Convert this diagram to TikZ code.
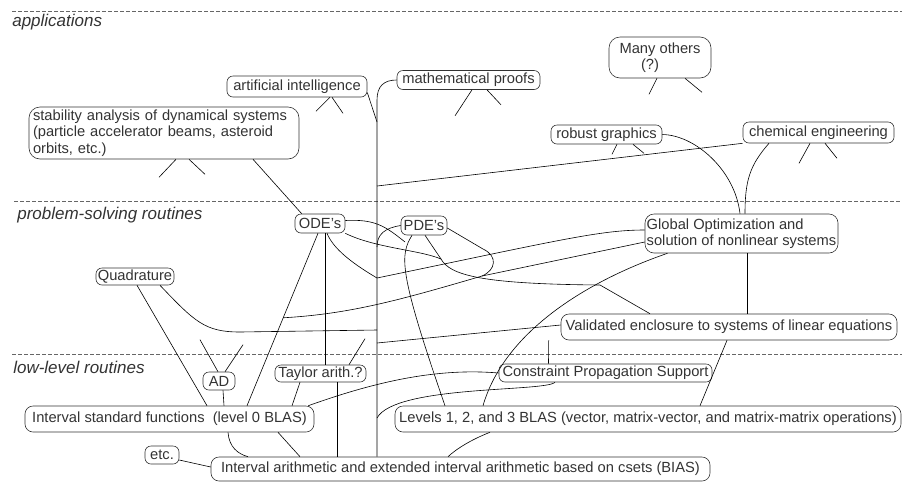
\documentclass[tikz,border=0pt]{standalone}
\usepackage{fontspec}
\setmainfont{Liberation Sans}
\usetikzlibrary{calc}

\begin{document}
\begin{tikzpicture}[
    x=1pt, y=-1pt,
    line width=0.6pt,
    box/.style = {draw=black!80, rounded corners=6pt, inner sep=1pt, text=black!80,
                  font=\fontsize{14.7}{16.5}\selectfont},
    bigbox/.style = {box, rounded corners=11pt, align=left, inner xsep=1.5pt},
    level/.style = {anchor=west, inner sep=0pt, text=black!80,
                    font=\fontsize{17}{19}\selectfont\itshape},
    sep/.style = {draw=black!60, dash pattern=on 4pt off 2pt}
  ]
  \useasboundingbox (0,0) rectangle (902,491);

  % layers
  \draw[sep] (12,11) -- (902,11);
  \draw[sep] (14,201) -- (902,201);
  \draw[sep] (12,354) -- (902,354);
  \node[level] (app) at (12,22) {applications};
  \node[level] (psr) at (17,215) {problem-solving routines};
  \node[level] (llr) at (13,367) {low-level routines};

  % applications
  \node[box, minimum width=140, minimum height=21] (ai) at (297,86.5) {artificial intelligence};
  \node[box, minimum width=143, minimum height=19] (proofs) at (468.5,80) {mathematical proofs};
  \node[bigbox, align=center, minimum width=102, minimum height=41] (many) at (660,57.5)
    {Many others\\\hspace*{-20pt}(?)};
  \node[bigbox, text width=262, inner xsep=4pt, minimum height=52] (stab) at (164,133)
    {stability analysis of dynamical systems\\(particle accelerator beams, asteroid\\orbits, etc.)};
  \node[box, minimum width=111, minimum height=19] (graphics) at (606.5,134.5) {robust graphics};
  \node[box, minimum width=151, minimum height=21] (chem) at (818.5,132.5) {chemical engineering};

  % problem-solving routines
  \node[box, minimum width=50, minimum height=19] (ode) at (320,223.5) {ODE's};
  \node[box, minimum width=46, minimum height=19] (pde) at (424,225.5) {PDE's};
  \node[bigbox, rounded corners=9pt, minimum width=193, minimum height=39] (glob) at (741.5,233.5)
    {Global Optimization and\\solution of nonlinear systems};
  \node[box, minimum width=78, minimum height=17] (quad) at (135,276.5) {Quadrature};
  \node[box, rounded corners=8pt, minimum width=336, minimum height=26] (valid) at (729,327)
    {Validated enclosure to systems of linear equations};

  % low-level routines
  \node[box, minimum width=32, minimum height=18] (ad) at (219,381) {AD};
  \node[box, minimum width=91, minimum height=17] (taylor) at (320.5,373.5) {Taylor arith.?};
  \node[box, minimum width=213, minimum height=18] (cps) at (605.5,373) {Constraint Propagation Support};
  \node[box, rounded corners=8pt, minimum width=289, minimum height=26] (istd) at (169.5,419)
    {Interval standard functions\ \ (level 0 BLAS)};
  \node[box, rounded corners=8pt, minimum width=506, minimum height=26] (blas) at (648,419)
    {Levels 1, 2, and 3 BLAS (vector, matrix-vector, and matrix-matrix operations)};
  \node[box, minimum width=34, minimum height=18] (etc) at (162,455) {etc.};
  \node[box, rounded corners=8pt, minimum width=499, minimum height=24] (bias) at (460.5,469)
    {Interval arithmetic and extended interval arithmetic based on csets (BIAS)};

  % unfinished links
  \draw ([xshift=33pt]ai.south) -- ++(-14,14);
  \draw ([xshift=35pt]ai.south) -- ++(11,16);
  \draw ([xshift=12pt]stab.south) -- ++(-17,18);
  \draw ([xshift=25pt]stab.south) -- ++(16,15);
  \draw ([xshift=3.5pt]proofs.south) -- ++(-17,26);
  \draw ([xshift=18.5pt]proofs.south) -- ++(14,15);
  \draw ([xshift=-3pt]many.south) -- ++(-8,16);
  \draw ([xshift=25pt]many.south) -- ++(17,14);
  \draw ([xshift=10.5pt]graphics.south) -- ++(-5,10);
  \draw ([xshift=26.5pt]graphics.south) -- ++(11,9);
  \draw ([xshift=-8.5pt]chem.south) -- ++(-11,20);
  \draw ([xshift=6.5pt]chem.south) -- ++(12,15);
  \draw ([xshift=-1pt]ad.north) -- ++(-18,-32);
  \draw ([xshift=6pt]ad.north) -- ++(18,-27);
  \draw ([xshift=28.5pt]taylor.north) -- ++(16,-26);

  % trunk
  \coordinate (trunktop) at (377,100);
  \coordinate (j-ai) at (377,122);
  \coordinate (j-chem) at (377,186);
  \coordinate (j-pde) at (377,247);
  \coordinate (j-glob) at (377,278);
  \coordinate (j-quad) at (377,330);
  \coordinate (j-valid) at (377,343);
  \coordinate (j-cps) at (377,418);
  \draw (proofs.west) .. controls (384,80) and (377,86) .. (trunktop) -- (trunktop |- bias.north);

  % applications links
  \draw ([yshift=-6pt]ai.east) -- (j-ai);
  \draw (j-chem) -- (chem.south west);
  \draw (graphics.east) .. controls (695,135) and (735,170) .. ([xshift=-1.5pt]glob.north);
  \draw ([xshift=-49.5pt]chem.south) .. controls (750,165) and (745,180) .. ([xshift=3.5pt]glob.north);
  \draw ([xshift=89pt]stab.south) -- ([xshift=7pt]ode.north west);

  % problem-solving links
  \coordinate (ode-l) at ([xshift=-2pt]ode.south);
  \coordinate (istd-r) at ([xshift=77.5pt]istd.north);
  \coordinate (j-br) at ($(ode-l)!0.49!(istd-r)$);
  \coordinate (j-val) at (441,259);
  \coordinate (k-val) at (600,285);
  \coordinate (j-hook) at (482,276);
  \coordinate (p-mid) at (405,242);
  \draw ([xshift=7pt]ode.south) .. controls (333,248) and (350,262) .. (j-glob);
  \draw (j-glob) .. controls (560,240) and (600,230) .. ([yshift=3.5pt]glob.west);
  \draw ([yshift=3pt]ode.east) .. controls (375,219) and (385,226) .. (p-mid);
  \draw ([xshift=-12pt]pde.south) .. controls (400,255) and (398,270) .. ([xshift=-203pt]blas.north);
  \draw (pde.west) .. controls (385,228) and (377,234) .. (j-pde);
  \draw (ode.south east) .. controls (375,248) and (420,250) .. (j-val);
  \draw ([xshift=1pt]pde.south) -- (j-val);
  \draw (j-val) .. controls (450,275) and (480,284) .. (k-val) -- ([xshift=-79pt]valid.north);
  \draw ([yshift=-2.5pt]pde.east) -- (483,249) .. controls (498,256) and (496,270) .. (j-hook);
  \draw (j-hook) -- ([yshift=-8.5pt]glob.west);
  \draw (j-br) .. controls (350,314) and (400,300) .. (j-hook);
  \draw (ode-l) -- (istd-r);
  \draw ([xshift=5pt]ode.south) -- ([xshift=4.5pt]taylor.north);
  \draw ([xshift=2pt]quad.south) -- ([xshift=37.5pt]istd.north);
  \draw ([xshift=25pt]quad.south) .. controls (195,322) and (205,332) .. (240,332) -- (j-quad);
  \draw (j-valid) -- ([yshift=2pt]valid.west);
  \draw ([xshift=-165pt]blas.north) .. controls (505,330) and (590,280) .. ([xshift=-74pt]glob.south);
  \draw ([xshift=5.5pt]glob.south) -- ([xshift=18pt]valid.north);
  \draw ([xshift=52pt]blas.north) -- ([xshift=-2pt]valid.south);

  % low-level links
  \draw ([xshift=4pt]ad.south) -- ([xshift=54.5pt]istd.north);
  \draw ([xshift=-20.5pt]taylor.south) -- ([xshift=122.5pt]istd.north);
  \draw ([xshift=16.5pt]taylor.south) -- ([xshift=-123.5pt]bias.north);
  \draw ([xshift=-6pt]istd.north east) .. controls (380,380) and (440,368) .. (cps.west);
  \draw (j-cps) .. controls (395,385) and (545,392) .. ([xshift=-50.5pt]cps.south);
  \draw ([xshift=-57pt]cps.north) -- ([xshift=-12pt]valid.south west);
  \draw ([xshift=-158pt]blas.south) .. controls (470,440) and (455,450) .. ([xshift=-12.5pt]bias.north);
  \draw ([xshift=58.5pt]istd.south) .. controls (229,447) and (238,454) .. ([xshift=-212.5pt]bias.north);
  \draw ([xshift=108.5pt]istd.south) -- ([xshift=-160.5pt]bias.north);
  \draw ([yshift=-5pt]etc.east) -- ([yshift=2pt]bias.west);
\end{tikzpicture}
\end{document}
